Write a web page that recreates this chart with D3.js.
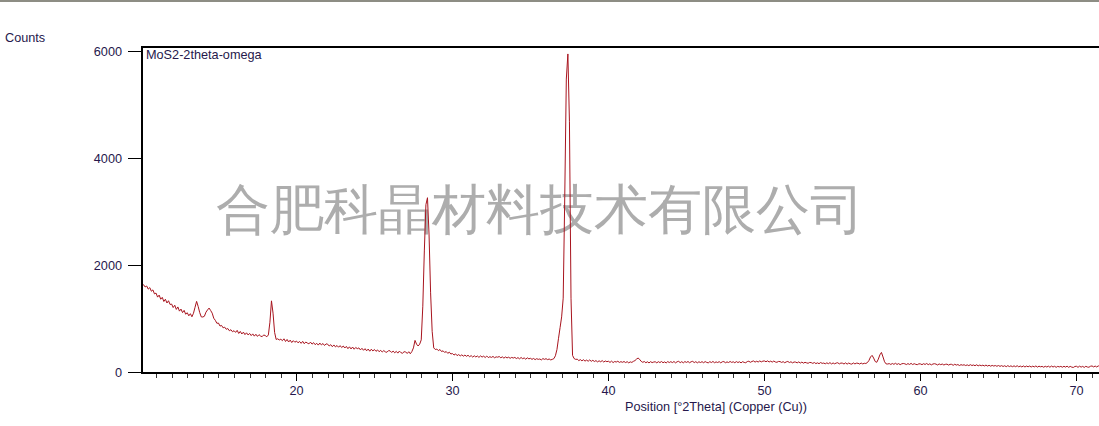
<!DOCTYPE html>
<html>
<head>
<meta charset="utf-8">
<script src="https://cdn.jsdelivr.net/npm/d3@7"></script>
<style>
html,body{margin:0;padding:0;background:#fff;}
svg{display:block;}
text{font-family:"Liberation Sans",Arial,sans-serif;}
</style>
</head>
<body>
<svg id="chart" width="1099" height="426"></svg>
<script>
// ---- data ----
const startAngle = 10.0;   // °2Theta of first sample
const stepSize = 0.1;      // °2Theta step
const counts = [
1680,1635,1652,1610,1628,1570,1598,1530,1555,1480,
1495,1420,1458,1380,1415,1338,1380,1310,1352,1282,
1290,1225,1268,1190,1236,1158,1196,1130,1172,1100,
1128,1070,1110,1052,1118,1230,1340,1245,1130,1050,
1048,1062,1138,1180,1215,1170,1120,1025,985,930,
935,878,890,845,858,818,832,790,810,772,
792,760,798,740,778,730,765,718,752,712,
740,700,732,690,725,685,718,692,680,712,
700,678,712,950,1350,1120,760,628,640,618,
632,605,640,590,628,580,615,570,605,575,
598,565,590,555,592,548,580,560,545,578,
540,568,530,556,522,560,525,552,515,545,
540,505,530,492,525,488,515,482,512,476,
505,468,498,455,490,450,486,445,478,455,
470,432,462,425,455,415,448,408,445,412,
440,405,432,398,425,392,420,395,388,418,
415,385,410,378,405,372,410,380,370,398,
395,365,398,360,402,470,610,540,505,540,
620,1250,2300,3150,3280,2600,1500,780,470,440,
448,418,440,402,415,385,402,368,390,355,
365,335,358,325,345,320,340,315,335,312,
332,305,325,298,322,300,318,292,320,298,
315,290,318,288,305,292,310,285,302,296,
308,285,302,278,300,282,296,275,292,280,
292,270,288,265,290,268,282,258,284,265,
275,255,272,250,268,255,262,245,270,255,
268,250,262,245,255,268,322,440,650,850,
1050,1400,3300,5500,5970,4700,1400,330,270,255,
258,232,250,228,248,222,242,220,245,218,
238,215,232,208,228,210,232,205,225,212,
220,198,222,195,215,205,220,198,212,200,
215,195,212,190,208,198,218,232,260,280,
255,218,200,215,192,210,188,212,195,205,
210,190,212,195,215,192,208,188,214,196,
212,195,215,190,210,218,194,212,190,214,
198,215,192,210,218,195,212,190,210,196,
212,192,214,198,190,212,196,216,192,208,
196,212,190,210,214,192,208,196,216,198,
210,192,214,196,210,190,212,198,192,214,
220,200,216,226,204,220,206,226,208,222,
226,210,228,206,222,204,224,206,200,216,
214,198,212,192,208,216,196,210,190,206,
204,190,208,186,204,184,200,190,182,198,
194,180,196,176,190,174,196,180,186,172,
190,174,194,170,188,172,186,192,170,186,
184,168,190,166,186,172,166,188,170,184,
182,168,186,170,182,178,195,235,300,330,
280,215,200,260,340,385,300,210,170,168,
176,160,178,162,182,160,176,156,172,178,
172,158,176,160,180,158,174,162,156,172,
170,156,174,160,178,156,172,152,168,174,
166,150,170,156,168,150,162,166,148,162,
162,144,164,148,158,140,156,146,154,140,
152,138,156,140,150,136,154,134,148,136,
146,132,148,130,144,128,142,130,140,126,
140,124,138,122,136,118,138,120,134,118,
134,118,136,116,130,114,132,112,130,116,
130,112,128,114,132,110,128,116,124,108,
126,112,128,108,130,112,126,106,124,114,
124,108,126,110,128,106,124,110,104,122,
126,106,128,110,124,104,126,112,108,126,
132,114,130,112,134,116,124,130,114,128
];
const yTickValues = [0, 2000, 4000, 6000];
const xTickValues = [20, 30, 40, 50, 60, 70];
const xMinorTicks = d3.range(11, 73, 1).filter(v => v % 10 !== 0);
const seriesName = "MoS2-2theta-omega";
const yAxisTitle = "Counts";
const xAxisTitle = "Position [°2Theta] (Copper (Cu))";
const watermark = "合肥科晶材料技术有限公司";

// ---- layout ----
const svg = d3.select("#chart");
const W = 1099, H = 426;
const plotLeft = 142, plotTop = 47, plotBottom = 373;
const pxPerDeg = 15.6;
const xDomain = [10.1, 73.0];
const x = d3.scaleLinear().domain(xDomain).range([plotLeft, plotLeft + (xDomain[1] - xDomain[0]) * pxPerDeg]);
const y = d3.scaleLinear().domain([0, 6100]).range([plotBottom, plotTop]);
const textColor = "#26184c";
const fs = 12.7;

// window top border
svg.append("rect").attr("x", 0).attr("y", 0).attr("width", W).attr("height", 2).attr("fill", "#8d8d84");

// watermark
svg.append("text")
  .attr("x", 216).attr("y", 228)
  .attr("font-family", "'Noto Sans CJK SC','Noto Sans CJK JP',sans-serif")
  .attr("font-size", 53.5)
  .attr("fill", "#adadad")
  .text(watermark);

// clip
svg.append("clipPath").attr("id", "plotclip")
  .append("rect").attr("x", plotLeft).attr("y", plotTop).attr("width", x.range()[1] - plotLeft).attr("height", plotBottom - plotTop);

const data = counts.map((c, i) => ({ t: startAngle + i * stepSize, c }));
const line = d3.line().x(d => x(d.t)).y(d => y(d.c));
svg.append("path")
  .datum(data)
  .attr("clip-path", "url(#plotclip)")
  .attr("fill", "none")
  .attr("stroke", "#a8141e")
  .attr("stroke-width", 1)
  .attr("stroke-linejoin", "round")
  .attr("d", line);

// frame (left, top, bottom)
const xr = x.range()[1];
svg.append("path")
  .attr("d", `M${xr},${plotTop}H${plotLeft}V${plotBottom}H${xr}`)
  .attr("fill", "none").attr("stroke", "#000").attr("stroke-width", 2);

// y axis ticks & labels
const yT = svg.append("g");
yTickValues.forEach(v => {
  const yy = Math.round(y(v)) - 0.5;
  yT.append("line").attr("x1", 128).attr("x2", plotLeft - 1).attr("y1", yy).attr("y2", yy)
    .attr("stroke", "#000").attr("stroke-width", 1);
  yT.append("text").attr("x", 122).attr("y", yy + 4.5)
    .attr("text-anchor", "end").attr("font-size", fs).attr("fill", textColor).text(v);
});

// x axis ticks
const xT = svg.append("g");
xMinorTicks.forEach(v => {
  const xx = Math.round(x(v)) + 0.5;
  xT.append("line").attr("x1", xx).attr("x2", xx).attr("y1", plotBottom + 1).attr("y2", plotBottom + 5)
    .attr("stroke", "#333").attr("stroke-width", 1);
});
xTickValues.forEach(v => {
  const xx = Math.round(x(v)) + 0.5;
  xT.append("line").attr("x1", xx).attr("x2", xx).attr("y1", plotBottom + 1).attr("y2", plotBottom + 8)
    .attr("stroke", "#000").attr("stroke-width", 1);
  xT.append("text").attr("x", xx).attr("y", 395)
    .attr("text-anchor", "middle").attr("font-size", fs).attr("fill", textColor).text(v);
});

// titles
svg.append("text").attr("x", 5).attr("y", 42).attr("font-size", fs).attr("fill", textColor).text(yAxisTitle);
svg.append("text").attr("x", 625).attr("y", 411).attr("font-size", fs).attr("fill", textColor).text(xAxisTitle);
svg.append("text").attr("x", 146).attr("y", 59).attr("font-size", fs).attr("fill", textColor).text(seriesName);
</script>
</body>
</html>
